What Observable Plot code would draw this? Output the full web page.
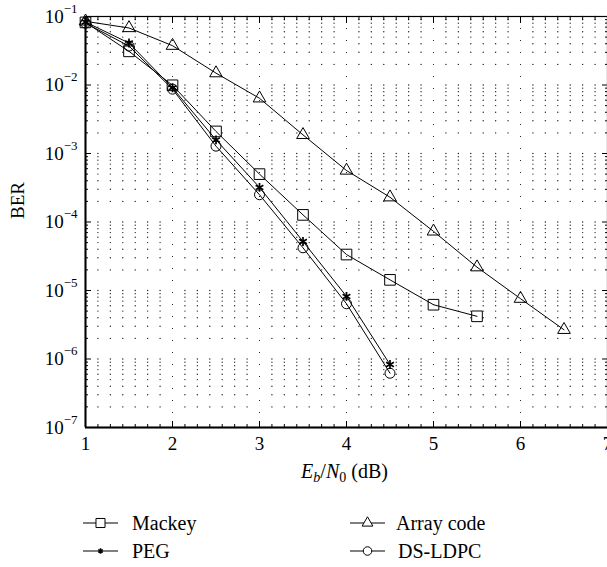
<!DOCTYPE html>
<html><head><meta charset="utf-8">
<script src="https://cdn.jsdelivr.net/npm/d3@7"></script>
<script src="https://cdn.jsdelivr.net/npm/@observablehq/plot@0.6"></script>
<style>
body{margin:0;background:#fff;font-family:"Liberation Serif",serif;}
#chart{position:relative;width:607px;height:567px;overflow:hidden;background:#fff;}
.lt{position:absolute;font-size:20px;line-height:20px;height:20px;color:#000;white-space:nowrap;}
.ls{position:absolute;}
</style></head><body><div id="chart"></div>
<script>
// ---- data ----
const ebn0 = [1, 1.5, 2, 2.5, 3, 3.5, 4, 4.5, 5, 5.5, 6, 6.5];
const mackey = [0.082, 0.031, 0.0099, 0.0021, 5.0e-4, 1.27e-4, 3.35e-5, 1.43e-5, 6.2e-6, 4.2e-6];
const peg = [0.083, 0.041, 0.0091, 0.00158, 3.2e-4, 5.2e-5, 8.2e-6, 8.3e-7];
const arrayCode = [0.085, 0.068, 0.0375, 0.0149, 6.4e-3, 1.87e-3, 5.65e-4, 2.3e-4, 7.3e-5, 2.19e-5, 7.6e-6, 2.67e-6];
const dsldpc = [0.08, 0.037, 0.0087, 0.00128, 2.5e-4, 4.2e-5, 6.4e-6, 6.2e-7];
const seriesNames = ["Mackey", "PEG", "Array code", "DS-LDPC"];
const xTicks = [1, 2, 3, 4, 5, 6, 7];
const yTicks = [1e-7, 1e-6, 1e-5, 1e-4, 1e-3, 1e-2, 1e-1];
const xMinorPerUnit = 7;
const yMinorMultipliers = [2, 3, 4, 5, 6, 7, 8, 9];
const xLabel = "E_b/N_0 (dB)";
const yLabel = "BER";

// ---- derived tables ----
const rows = vals => vals.map((v, i) => ({x: ebn0[i], y: v}));
const series = [
  {name: seriesNames[0], data: rows(mackey), symbol: "square", r: 6},
  {name: seriesNames[1], data: rows(peg), symbol: "asterisk", r: 4.2},
  {name: seriesNames[2], data: rows(arrayCode), symbol: "triangle", r: 4.7},
  {name: seriesNames[3], data: rows(dsldpc), symbol: "circle", r: 5}
];
const xMinor = [];
for (let i = 0; i < xTicks.length - 1; i++)
  for (let j = 1; j < xMinorPerUnit; j++) xMinor.push(xTicks[i] + j / xMinorPerUnit);
const yMinor = [];
for (let i = 0; i < yTicks.length - 1; i++)
  for (const k of yMinorMultipliers) yMinor.push(yTicks[i] * k);
const yRows = [...yTicks, ...yMinor];
const grid = [];
for (const gx of xMinor) for (const gy of yRows) grid.push({x: gx, y: gy});
const innerMajorX = xTicks.slice(1, -1);

const F = "Liberation Serif, Times New Roman, serif";
const marks = [
  Plot.dot(grid, {x: "x", y: "y", r: 0.7, fill: "#222", stroke: null}),
  Plot.ruleX(innerMajorX, {stroke: "#222", strokeDasharray: "1,11", strokeWidth: 1}),
];
for (const s of series) {
  marks.push(Plot.line(s.data, {x: "x", y: "y", stroke: "black", strokeWidth: 1}));
  marks.push(Plot.dot(s.data, {x: "x", y: "y", symbol: s.symbol, r: s.r, stroke: "black", fill: "none",
    strokeWidth: s.symbol === "asterisk" ? 1.7 : 1}));
}
marks.push(
  Plot.frame({stroke: "black", strokeWidth: 1.2}),
  Plot.ruleX([xTicks[0]], {stroke: "black", strokeWidth: 2}),
  Plot.ruleY([yTicks[0]], {stroke: "black", strokeWidth: 2}),
  // tick labels
  Plot.axisY(yTicks, {anchor: "left", tickSize: 0, tickPadding: 8, fontSize: 19, fontFamily: F, label: null,
    tickFormat: d => "10^" + Math.round(Math.log10(d))}),
  Plot.axisX(xTicks, {anchor: "bottom", tickSize: 0, tickPadding: 9, fontSize: 19, fontFamily: F, label: null}),
  // inward ticks on all four sides
  Plot.axisY(yTicks, {anchor: "left", tickSize: -6, fill: "none", label: null}),
  Plot.axisY(yMinor, {anchor: "left", tickSize: -3, fill: "none", label: null}),
  Plot.axisY(yTicks, {anchor: "right", tickSize: -6, fill: "none", label: null}),
  Plot.axisY(yMinor, {anchor: "right", tickSize: -3, fill: "none", label: null}),
  Plot.axisX(xTicks, {anchor: "bottom", tickSize: -6, fill: "none", label: null}),
  Plot.axisX(xMinor, {anchor: "bottom", tickSize: -3, fill: "none", label: null}),
  Plot.axisX(xTicks, {anchor: "top", tickSize: -6, fill: "none", label: null}),
  Plot.axisX(xMinor, {anchor: "top", tickSize: -3, fill: "none", label: null}),
  // axis titles
  Plot.text([yLabel], {frameAnchor: "left", dx: -68, dy: -3, rotate: -90, fontSize: 19, fontFamily: F, fill: "black"}),
  Plot.text([xLabel], {frameAnchor: "bottom", dy: 50, dx: -2, fontSize: 20, fontFamily: F, fill: "black"})
);

const svg = Plot.plot({
  width: 607, height: 495,
  marginLeft: 85, marginRight: 0, marginTop: 16, marginBottom: 68,
  x: {domain: [1, 7], label: null},
  y: {type: "log", domain: [1e-7, 1e-1], label: null},
  style: {fontFamily: F, fontSize: "19px", color: "black", background: "white", overflow: "visible"},
  marks
});

// rich text: superscripts and subscripts
const NS = "http://www.w3.org/2000/svg";
function ts(parent, txt, attrs) {
  const t = document.createElementNS(NS, "tspan");
  for (const k in attrs) t.setAttribute(k, attrs[k]);
  t.textContent = txt;
  parent.appendChild(t);
}
svg.querySelectorAll("text").forEach(t => {
  const s = t.textContent;
  if (s.startsWith("10^")) {
    const e = s.slice(3).replace("-", "\u2212");
    t.textContent = "";
    ts(t, "10", {});
    ts(t, e, {"font-size": 13, dy: -10});
  } else if (s === xLabel) {
    t.textContent = "";
    ts(t, "E", {"font-style": "italic"});
    ts(t, "b", {"font-style": "italic", "font-size": 14, dy: 4});
    ts(t, "/", {dy: -4});
    ts(t, "N", {"font-style": "italic"});
    ts(t, "0", {"font-size": 14, dy: 4});
    ts(t, "\u00a0(dB)", {dy: -4});
  }
});

const chart = document.getElementById("chart");
chart.appendChild(svg);

// legend (below the svg)
const legendItems = [
  {s: series[0], lx: 83, tx: 132, cy: 523},
  {s: series[2], lx: 350, tx: 396, cy: 523},
  {s: series[1], lx: 83, tx: 132, cy: 551},
  {s: series[3], lx: 350, tx: 398, cy: 551}
];
const symMap = {square: d3.symbolSquare, asterisk: d3.symbolAsterisk, triangle: d3.symbolTriangle, circle: d3.symbolCircle};
for (const it of legendItems) {
  const w = 35, h = 18;
  const sw = d3.create("svg").attr("class", "ls").attr("width", w).attr("height", h)
    .style("left", it.lx + "px").style("top", (it.cy - h / 2) + "px");
  sw.append("line").attr("x1", 0).attr("x2", w).attr("y1", h / 2).attr("y2", h / 2)
    .attr("stroke", "black").attr("stroke-width", 1);
  const rr = it.s.symbol === "asterisk" ? 2.5 : it.s.r * 0.85;
  sw.append("path").attr("transform", `translate(${w / 2},${h / 2})`)
    .attr("d", d3.symbol(symMap[it.s.symbol], Math.PI * rr * rr)())
    .attr("fill", it.s.symbol === "asterisk" ? "black" : "white").attr("stroke", "black")
    .attr("stroke-width", it.s.symbol === "asterisk" ? 1.6 : 1);
  chart.appendChild(sw.node());
  const tx = document.createElement("div");
  tx.className = "lt";
  tx.style.left = it.tx + "px";
  tx.style.top = (it.cy - 10) + "px";
  tx.textContent = it.s.name;
  chart.appendChild(tx);
}
</script></body></html>
